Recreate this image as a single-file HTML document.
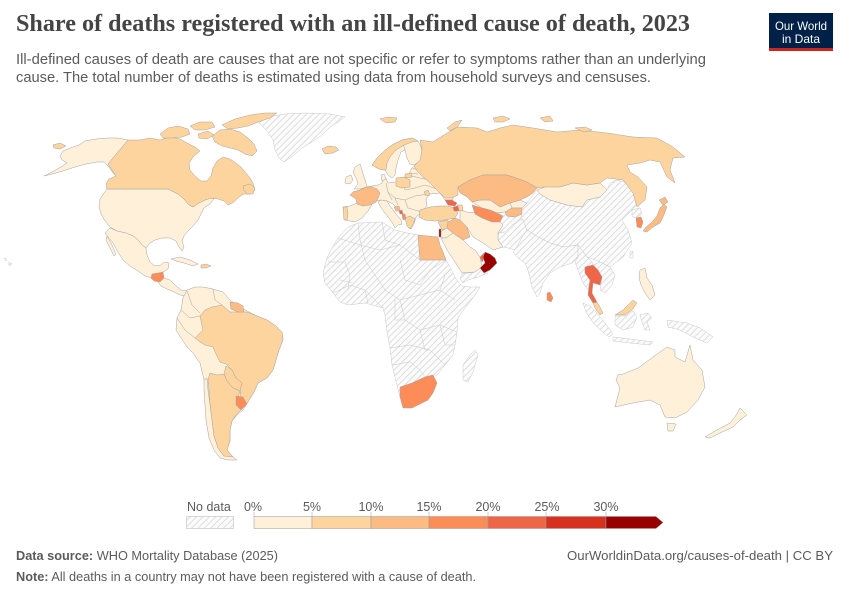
<!DOCTYPE html>
<html><head><meta charset="utf-8"><style>
html,body{margin:0;padding:0;background:#fff;}
svg{display:block;}
</style></head><body>
<svg width="850" height="600" viewBox="0 0 850 600" xmlns="http://www.w3.org/2000/svg">
<defs>
<pattern id="h" width="4.5" height="4.5" patternUnits="userSpaceOnUse" patternTransform="rotate(45)">
<rect width="4.5" height="4.5" fill="#fcfcfc"/>
<line x1="0" y1="0" x2="0" y2="4.5" stroke="#d6d6d6" stroke-width="1.6"/>
</pattern>
</defs>
<rect width="850" height="600" fill="#fff"/>

<!-- Title -->
<text x="16" y="31" font-family="Liberation Serif, serif" font-size="24" font-weight="bold" fill="#444" textLength="674" lengthAdjust="spacingAndGlyphs">Share of deaths registered with an ill-defined cause of death, 2023</text>
<text x="16" y="64" font-family="Liberation Sans, sans-serif" font-size="14.5" fill="#5b5b5b" textLength="690" lengthAdjust="spacingAndGlyphs">Ill-defined causes of death are causes that are not specific or refer to symptoms rather than an underlying</text>
<text x="16" y="82" font-family="Liberation Sans, sans-serif" font-size="14.5" fill="#5b5b5b" textLength="635" lengthAdjust="spacingAndGlyphs">cause. The total number of deaths is estimated using data from household surveys and censuses.</text>

<!-- Logo -->
<rect x="769" y="13" width="64" height="38" fill="#002147"/>
<rect x="769" y="48" width="64" height="3" fill="#ce261e"/>
<text x="801" y="30" text-anchor="middle" font-family="Liberation Sans, sans-serif" font-size="12" fill="#fff" textLength="52" lengthAdjust="spacingAndGlyphs">Our World</text>
<text x="801" y="43" text-anchor="middle" font-family="Liberation Sans, sans-serif" font-size="12" fill="#fff" textLength="38" lengthAdjust="spacingAndGlyphs">in Data</text>

<!-- MAP -->
<g stroke="#a3a3a3" stroke-width="0.5" stroke-linejoin="round">
<!-- hatched no-data -->
<g fill="url(#h)" stroke="#c9c9c9">
<polygon points="258,121 268,117 285,114 305,113 330,114 345,117 338,122 330,127 322,135 312,142 302,148 293,156 284,162 279,158 275,150 273,140 268,132 262,126"/>
<polygon points="348,227 358,223 382,222 395,230 407,233 418,235 420,260 446,260 451,269 456,279 462,286 470,287 480,287 475,295 465,308 458,318 457,332 455,345 453,355 445,365 437,375 433,375 425,377 412,383 402,388 400,397 397,385 392,365 390,348 387,332 385,315 383,308 365,303 348,305 340,302 333,293 325,283 323,273 327,258 332,248 338,238"/>
<g fill="none">
<polyline points="338,238 360,245 380,250 400,245 420,260"/>
<polyline points="333,293 350,285 365,290 383,308"/>
<polyline points="365,260 375,275 385,290 400,300 420,295 440,290 455,300"/>
<polyline points="400,300 405,320 420,330 440,325 457,332"/>
<polyline points="390,348 410,345 430,350 445,365"/>
<polyline points="400,260 405,280 420,285 430,270 446,260"/>
<polyline points="328,262 345,262 350,275 348,290"/>
<polyline points="358,223 360,240 365,260"/>
<polyline points="382,222 385,240 400,245"/>
<polyline points="395,300 395,320 405,320"/>
<polyline points="420,330 425,350 430,350"/>
<polyline points="392,365 410,362 420,370 425,377"/>
<polyline points="440,325 445,345 455,345"/>
<polyline points="440,290 445,275 451,269"/>
<polyline points="365,290 368,303"/>
<polyline points="340,280 352,283"/>
</g>
<polygon points="475,350 478,355 473,372 468,382 463,380 463,365 470,355"/>
<polygon points="462,274 475,272 482,267 488,273 478,277 468,280 463,283 460,278"/>
<polygon points="537,190 550,200 567,205 582,207 587,200 600,197 607,190 610,183 617,180 628,183 637,190 640,200 632,210 622,220 628,230 632,243 623,257 610,267 600,262 587,257 578,245 563,247 550,243 540,238 527,230 523,220 517,213 522,208 527,203 533,195"/>
<polygon points="497,213 505,212 507,216 515,217 522,214 520,220 512,225 505,232 498,233 495,225 500,222"/>
<polygon points="505,232 512,225 520,220 523,220 527,230 522,237 520,245 515,250 508,248 503,247 498,240 498,233"/>
<polygon points="518,245 522,237 527,230 540,238 550,243 563,247 578,245 578,257 572,263 560,267 550,273 543,283 540,293 537,297 532,287 528,270 525,263 518,258 513,252"/>
<polygon points="578,245 587,257 592,262 593,265 585,267 585,273 590,280 588,290 583,283 578,270 575,262 578,257"/>
<polygon points="593,265 600,262 610,267 615,275 612,285 605,293 600,290 602,277 598,270"/>
<polygon points="632,210 640,208 642,214 636,218 632,216"/>
<polygon points="630,252 633,251 633,258 630,258"/>
<polygon points="615,316 625,316 633,311 637,317 633,327 623,330 615,325"/>
<polygon points="583,303 590,306 597,313 605,323 613,334 609,337 600,330 592,321 586,312"/>
<polygon points="613,337 630,339 653,342 650,345 630,343 613,341"/>
<polygon points="640,315 648,313 652,318 647,322 650,330 645,330 642,322"/>
<polygon points="667,320 687,323 700,328 713,337 707,343 693,337 680,330 668,327"/>
<polygon points="205,345 213,347 216,354 220,362 226,364 230,369 225,373 217,375 210,373 207,365 206,355"/>
<polygon points="4,258 7,259 6,261"/>
<polygon points="9,262 12,264 10,266 8,264"/>
</g>

<!-- c0 light -->
<g fill="#fef0d9">
<polygon points="128,140 118,138 108,138 96,139 85,141 79,145 70,148 63,151 60,156 62,160 67,163 61,167 54,171 44,176 56,173 66,170 75,167 86,164 97,162 104,162 109,167 113,173 116,176 112,170 108,164"/>
<polygon points="107,189 168,189 172,191 178,194 184,199 189,205 193,207 199,203 205,200 211,198 214,199 210,204 204,208 201,214 198,220 193,226 188,231 184,236 182,241 184,247 182,251 179,247 176,241 170,238 162,238 155,240 150,243 146,248 142,245 138,240 133,236 126,233 117,231 110,227 105,221 101,214 99,206 100,199 104,193"/>
<polygon points="105,233 110,228 117,231 126,233 133,236 138,240 142,245 146,248 147,255 150,262 155,266 161,265 164,262 169,263 168,269 163,272 157,274 152,278 145,276 138,271 130,266 123,260 118,252 113,243 109,238"/>
<polygon points="107,236 111,243 116,254 114,256 110,248 106,240"/>
<polygon points="158,282 164,278 170,280 175,285 181,290 187,291 186,296 180,295 174,292 167,289 161,286"/>
<polygon points="171,259 180,257 190,260 198,264 193,266 184,263 176,261"/>
<polygon points="187,290 195,287 203,287 213,289 223,292 230,300 238,306 247,311 257,316 267,320 276,326 282,332 283,340 279,350 276,360 273,370 267,378 258,383 254,392 248,402 243,410 237,415 232,421 230,430 230,441 227,450 233,457 237,460 228,460 220,458 214,450 209,438 206,420 205,405 204,390 204,380 200,363 193,353 187,347 181,338 176,330 177,318 181,310 183,298"/>
<!-- Europe base -->
<polygon points="343,207 350,206 357,203 356,198 350,195 353,192 360,190 366,187 372,186 378,185 382,183 383,178 386,178 388,183 395,182 402,180 408,175 412,168 416,165 420,160 422,150 430,150 440,155 445,170 448,185 455,195 452,200 445,200 440,193 430,194 426,199 427,206 422,212 416,217 414,224 411,229 407,223 404,216 399,210 393,204 387,201 381,200 376,201 372,204 368,211 362,218 355,222 345,220"/>
<polygon points="381,200 387,201 390,206 396,214 401,220 402,224 398,225 395,228 393,224 389,218 384,212 380,206 378,202"/>
<polygon points="372,165 377,158 384,151 392,145 402,140 412,138 418,141 421,147 423,155 420,161 414,165 410,164 407,158 405,150 401,152 398,160 396,168 395,175 392,178 388,175 385,170 379,169"/>
<polygon points="355,167 360,164 362,170 364,177 366,183 367,187 360,189 354,189 358,184 356,178 353,172"/>
<polygon points="346,177 351,175 353,180 350,184 345,183"/>
<polygon points="381,175 384,174 386,179 382,181"/>
<g fill="none">
<polyline points="372,186 375,195 378,198"/>
<polyline points="386,183 388,192 395,198 405,200 415,196 428,194"/>
<polyline points="402,180 405,190 415,188 425,185 440,190"/>
<polyline points="388,192 392,200"/>
<polyline points="408,175 420,178 430,180"/>
<polyline points="405,200 408,208 415,210 422,212"/>
<polyline points="395,198 398,205"/>
<polyline points="412,168 418,170"/>
<polyline points="410,173 418,174"/>
<polyline points="402,140 405,150"/>
<polyline points="187,291 192,305 200,313"/>
<polyline points="181,310 190,318 200,316"/>
<polyline points="177,318 185,330 195,338"/>
<polyline points="213,289 215,300 222,305"/>
<polyline points="204,380 207,378 208,390 210,404 212,420 214,436 218,448 224,456"/>
</g>
<polygon points="510,203 520,200 527,203 522,208 512,208"/>
<polygon points="472,202 480,200 490,200 500,207 510,203 512,208 505,212 497,213 490,210 482,208"/>
<polygon points="537,190 550,185 560,187 573,183 587,185 600,183 607,190 600,197 587,200 582,207 567,205 550,200 540,194"/>
<polygon points="460,210 467,212 477,213 490,215 500,222 503,225 498,233 498,240 503,247 493,250 483,243 473,237 467,227 460,220"/>
<polygon points="440,232 447,228 453,233 446,238 441,238"/>
<polygon points="441,238 446,238 453,233 463,240 470,247 475,250 480,257 482,267 475,272 462,273 455,262 447,250"/>
<polygon points="640,270 645,268 647,278 652,285 655,295 650,300 645,293 641,285 639,278"/>
<polygon points="618,375 623,374 638,368 653,357 667,347 675,350 675,357 685,362 690,345 693,360 702,370 705,387 698,400 687,412 675,418 665,417 660,405 650,400 633,403 615,407 620,388 616,380"/>
<polygon points="667,423 676,424 673,431 668,431"/>
<polygon points="705,437 715,431 730,423 737,414 740,408 745,413 747,415 740,420 733,427 720,433 710,438"/>
</g>

<!-- c1 -->
<g fill="#fdd49e">
<polygon points="128,140 140,140 150,138 160,140 170,137 180,139 187,143 195,147 200,151 194,156 189,163 190,170 195,176 201,181 207,181 211,176 213,168 217,161 223,157 230,159 236,163 241,167 246,173 250,178 253,183 255,190 250,194 244,194 239,197 234,202 228,205 224,201 218,199 211,198 205,200 199,203 193,207 189,205 184,199 178,194 172,191 168,189 107,189 106,184 109,179 116,176 112,170 108,164"/>
<polygon points="243,186 250,184 255,188 253,194 247,194 244,190"/>
<polygon points="212,136 220,130 230,129 240,132 248,138 254,144 257,151 252,156 245,154 238,150 230,148 222,146 215,142"/>
<polygon points="222,125 235,119 250,115 265,113 277,113 270,118 258,122 248,126 238,128 228,129"/>
<polygon points="160,134 168,128 178,126 188,129 190,134 182,137 172,138 163,138"/>
<polygon points="190,126 200,122 212,122 215,127 205,130 195,130"/>
<polygon points="198,134 208,131 214,135 207,139 199,138"/>
<polygon points="53,145 60,143 66,146 60,149 54,148"/>
<polygon points="201,265 206,264 211,266 206,268 201,268"/>
<polygon points="322,149 328,146 336,147 339,150 333,153 325,154"/>
<polygon points="380,119 388,117 397,118 395,122 386,123"/>
<polygon points="195,338 203,330 200,316 205,310 212,307 222,305 230,312 239,312 247,312 257,316 267,320 276,326 282,332 283,340 279,350 276,360 273,370 267,378 258,383 254,392 248,402 245,406 241,398 240,390 242,383 236,378 232,370 226,364 220,362 216,354 213,347 205,345 200,342"/>
<polygon points="226,366 232,370 236,378 242,383 240,391 233,388 227,381 224,374"/>
<polygon points="210,373 217,375 224,374 227,381 233,388 240,391 238,398 236,404 241,410 236,415 232,421 230,430 230,441 227,450 233,457 224,456 218,448 214,436 212,420 210,404 209,390 208,380"/>
<polygon points="372,165 377,158 384,151 392,145 402,140 412,138 418,141 412,142 404,145 396,150 390,157 387,163 386,170 383,170 379,169"/>
<polygon points="343,207 347,207 348,213 347,220 344,220"/>
<polygon points="396,178 404,177 410,180 410,187 402,188 396,186"/>
<polygon points="405,174 411,173 412,177 405,178"/>
<polygon points="405,218 410,216 415,219 413,224 410,229 407,226"/>
<polygon points="424,192 428,190 430,195 426,196"/>
<polygon points="420,210 430,207 440,206 450,206 455,209 458,213 455,218 445,220 435,221 425,220 419,217"/>
<polygon points="457,205 462,205 463,210 459,211"/>
<polygon points="438,222 448,220 448,228 442,230"/>
<polygon points="420,140 433,142 447,133 458,127 477,128 487,132 500,128 513,125 533,128 557,132 580,130 607,133 633,137 657,138 673,147 685,157 673,158 670,170 675,183 667,177 660,162 650,160 640,163 627,165 630,172 638,177 647,187 645,200 637,207 633,193 623,180 607,178 600,183 587,185 573,183 560,187 543,187 537,188 527,182 507,175 483,175 470,180 458,187 458,195 452,198 445,198 437,190 430,183 423,177 418,172 414,166 420,160 422,150"/>
<polygon points="447,128 455,122 462,120 458,126 450,131"/>
<polygon points="493,118 503,116 510,119 503,122 495,122"/>
<polygon points="540,118 550,116 553,121 545,122"/>
<polygon points="575,128 585,127 592,130 584,132"/>
<polygon points="593,303 597,302 600,307 603,313 600,315 595,308"/>
<polygon points="615,315 623,310 633,300 637,303 632,310 625,315"/>
</g>

<!-- c2 -->
<g fill="#fdbb84">
<polygon points="230,302 238,303 243,306 244,312 238,312 231,309"/>
<polygon points="350,195 353,192 360,190 366,187 372,187 377,189 380,193 378,198 376,202 370,205 363,206 357,204 356,199"/>
<polygon points="394,207 399,206 400,211 396,211"/>
<polygon points="458,187 470,180 483,175 507,175 527,182 537,188 533,193 527,197 520,200 510,203 500,207 490,200 480,200 472,202 467,197 460,193"/>
<polygon points="505,212 512,208 522,208 522,214 515,217 507,216"/>
<polygon points="448,222 455,218 460,220 467,227 470,237 463,240 453,233 447,228"/>
<polygon points="418,235 428,236 438,237 440,245 443,252 446,260 420,260"/>
<polygon points="647,232 653,227 660,223 663,217 667,207 664,204 660,208 657,216 652,222 646,227 643,231"/>
<polygon points="659,200 665,197 668,202 663,205"/>
</g>

<!-- c3 -->
<g fill="#fc8d59">
<polygon points="152,274 158,273 163,272 164,278 160,282 154,281 151,278"/>
<polygon points="236,396 243,397 247,404 241,410 236,405"/>
<polygon points="402,214 405,214 406,219 403,220"/>
<polygon points="472,205 482,208 490,210 497,213 503,216 500,222 492,222 482,218 475,214"/>
<polygon points="400,387 412,383 425,377 433,375 437,383 433,393 428,400 422,403 412,408 403,408 400,397"/>
<polygon points="547,293 550,292 553,298 551,302 547,300"/>
<polygon points="636,218 641,217 643,222 641,228 637,227"/>
</g>

<!-- c4 -->
<g fill="#ef6548">
<polygon points="399,211 402,210 403,214 400,214"/>
<polygon points="445,200 452,200 457,203 455,206 448,205"/>
<polygon points="453,207 458,206 459,211 454,211"/>
<polygon points="480,257 484,253 485,258 482,262"/>
<polygon points="585,267 593,265 598,270 602,277 600,285 593,283 592,293 597,302 593,303 588,295 590,280 585,273"/>
</g>

<!-- c6 -->
<g fill="#990000">
<polygon points="439,229 441,229 441,237 439,237"/>
<polygon points="485,252 490,254 495,258 497,263 490,270 484,273 480,268 485,263 483,257"/>
</g>
</g>

<!-- Legend -->
<g font-family="Liberation Sans, sans-serif" font-size="12.5" fill="#5b5b5b">
<text x="187" y="511">No data</text>
<text x="253" y="511" text-anchor="middle">0%</text>
<text x="312" y="511" text-anchor="middle">5%</text>
<text x="371" y="511" text-anchor="middle">10%</text>
<text x="429" y="511" text-anchor="middle">15%</text>
<text x="488" y="511" text-anchor="middle">20%</text>
<text x="547" y="511" text-anchor="middle">25%</text>
<text x="606" y="511" text-anchor="middle">30%</text>
</g>
<rect x="186.5" y="516.5" width="47" height="12" fill="url(#h)" stroke="#c9c9c9" stroke-width="0.7"/>
<g stroke="#9a9a9a" stroke-width="0.5">
<rect x="254" y="516.5" width="58" height="12" fill="#fef0d9"/>
<rect x="312" y="516.5" width="59" height="12" fill="#fdd49e"/>
<rect x="371" y="516.5" width="58" height="12" fill="#fdbb84"/>
<rect x="429" y="516.5" width="59" height="12" fill="#fc8d59"/>
<rect x="488" y="516.5" width="58" height="12" fill="#ef6548"/>
<rect x="546" y="516.5" width="60" height="12" fill="#d7301f"/>
<polygon points="606,516.5 656,516.5 663,522.5 656,528.5 606,528.5" fill="#990000"/>
<line x1="254" y1="512" x2="254" y2="517"/>
<line x1="312" y1="512" x2="312" y2="517"/>
<line x1="371" y1="512" x2="371" y2="517"/>
<line x1="429" y1="512" x2="429" y2="517"/>
<line x1="488" y1="512" x2="488" y2="517"/>
<line x1="546" y1="512" x2="546" y2="517"/>
<line x1="606" y1="512" x2="606" y2="517"/>
</g>

<!-- Footer -->
<g font-family="Liberation Sans, sans-serif" font-size="12.5" fill="#5b5b5b">
<text x="16" y="560" textLength="262" lengthAdjust="spacingAndGlyphs"><tspan font-weight="bold">Data source:</tspan> WHO Mortality Database (2025)</text>
<text x="833" y="560" text-anchor="end" textLength="266" lengthAdjust="spacingAndGlyphs">OurWorldinData.org/causes-of-death | CC BY</text>
<text x="16" y="581" textLength="460" lengthAdjust="spacingAndGlyphs"><tspan font-weight="bold">Note:</tspan> All deaths in a country may not have been registered with a cause of death.</text>
</g>
</svg>
</body></html>
